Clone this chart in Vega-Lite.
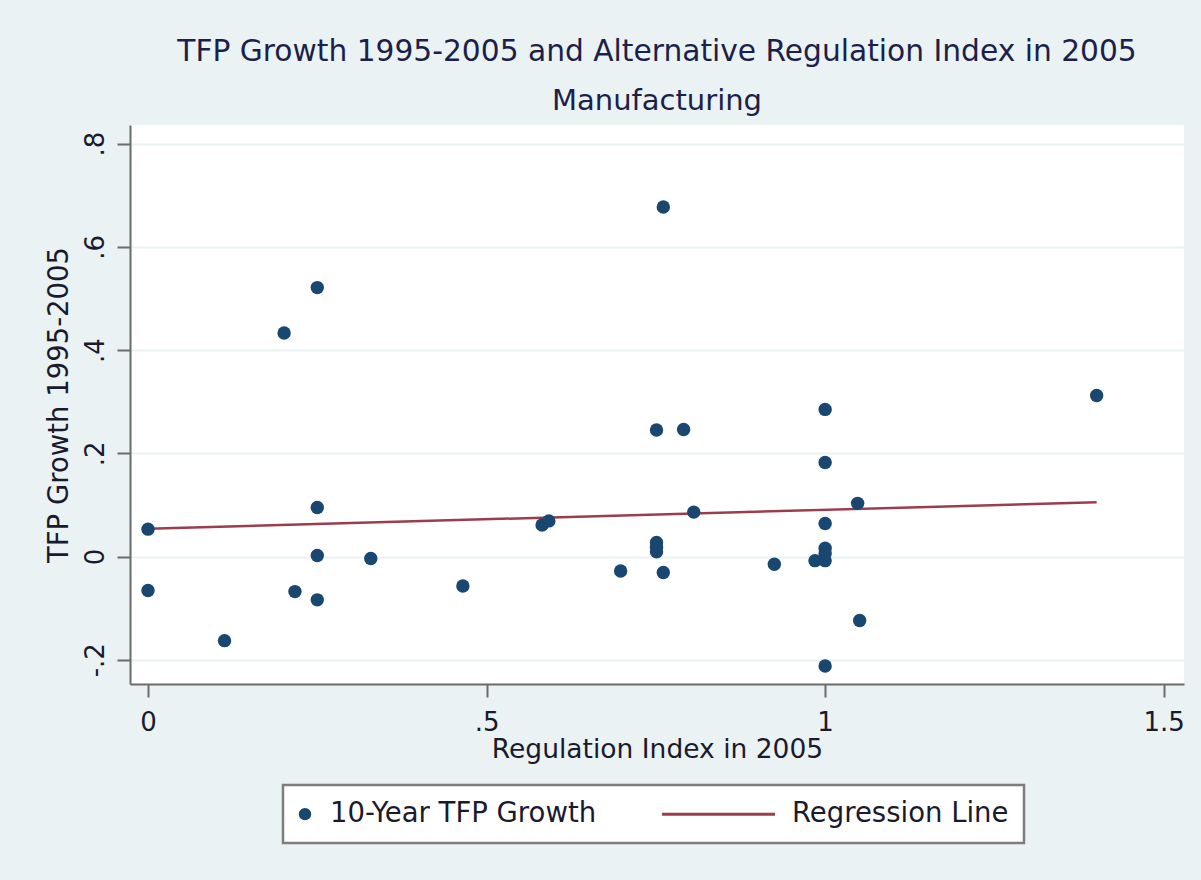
{
  "$schema": "https://vega.github.io/schema/vega-lite/v6.json",
  "width": 1054,
  "height": 559,
  "autosize": {"type": "none"},
  "padding": {"left": 130, "top": 125, "right": 17, "bottom": 196},
  "background": "#eaf2f3",
  "title": {
    "text": "TFP Growth 1995-2005 and Alternative Regulation Index in 2005",
    "subtitle": "Manufacturing",
    "anchor": "middle",
    "font": "DejaVu Sans",
    "subtitleFont": "DejaVu Sans",
    "fontSize": 29.7,
    "subtitleFontSize": 29,
    "fontWeight": "normal",
    "color": "#1c1f4a",
    "subtitleColor": "#1c1f4a",
    "offset": 8,
    "subtitlePadding": 19
  },
  "datasets": {
    "points": [
      {"x": 0, "y": 0.053, "series": "10-Year TFP Growth"},
      {"x": 0, "y": -0.066, "series": "10-Year TFP Growth"},
      {"x": 0.113, "y": -0.163, "series": "10-Year TFP Growth"},
      {"x": 0.201, "y": 0.433, "series": "10-Year TFP Growth"},
      {"x": 0.217, "y": -0.068, "series": "10-Year TFP Growth"},
      {"x": 0.25, "y": 0.521, "series": "10-Year TFP Growth"},
      {"x": 0.25, "y": 0.095, "series": "10-Year TFP Growth"},
      {"x": 0.25, "y": 0.002, "series": "10-Year TFP Growth"},
      {"x": 0.25, "y": -0.084, "series": "10-Year TFP Growth"},
      {"x": 0.329, "y": -0.004, "series": "10-Year TFP Growth"},
      {"x": 0.465, "y": -0.057, "series": "10-Year TFP Growth"},
      {"x": 0.582, "y": 0.061, "series": "10-Year TFP Growth"},
      {"x": 0.592, "y": 0.069, "series": "10-Year TFP Growth"},
      {"x": 0.698, "y": -0.028, "series": "10-Year TFP Growth"},
      {"x": 0.751, "y": 0.245, "series": "10-Year TFP Growth"},
      {"x": 0.751, "y": 0.027, "series": "10-Year TFP Growth"},
      {"x": 0.751, "y": 0.018, "series": "10-Year TFP Growth"},
      {"x": 0.751, "y": 0.009, "series": "10-Year TFP Growth"},
      {"x": 0.761, "y": -0.031, "series": "10-Year TFP Growth"},
      {"x": 0.761, "y": 0.677, "series": "10-Year TFP Growth"},
      {"x": 0.791, "y": 0.246, "series": "10-Year TFP Growth"},
      {"x": 0.806, "y": 0.086, "series": "10-Year TFP Growth"},
      {"x": 0.925, "y": -0.015, "series": "10-Year TFP Growth"},
      {"x": 0.985, "y": -0.008, "series": "10-Year TFP Growth"},
      {"x": 1.0, "y": 0.285, "series": "10-Year TFP Growth"},
      {"x": 1.0, "y": 0.182, "series": "10-Year TFP Growth"},
      {"x": 1.0, "y": 0.064, "series": "10-Year TFP Growth"},
      {"x": 1.0, "y": 0.016, "series": "10-Year TFP Growth"},
      {"x": 1.0, "y": 0.006, "series": "10-Year TFP Growth"},
      {"x": 1.0, "y": -0.008, "series": "10-Year TFP Growth"},
      {"x": 1.0, "y": -0.212, "series": "10-Year TFP Growth"},
      {"x": 1.048, "y": 0.103, "series": "10-Year TFP Growth"},
      {"x": 1.051, "y": -0.124, "series": "10-Year TFP Growth"},
      {"x": 1.401, "y": 0.312, "series": "10-Year TFP Growth"}
    ],
    "fit": [
      {"x": 0, "y": 0.054, "series": "Regression Line"},
      {"x": 1.401, "y": 0.105, "series": "Regression Line"}
    ]
  },
  "config": {
    "font": "DejaVu Sans",
    "view": {"fill": "white", "stroke": null}
  },
  "encoding": {
    "x": {
      "field": "x",
      "type": "quantitative",
      "scale": {"domain": [-0.0266, 1.53], "nice": false, "zero": false},
      "axis": {
        "values": [0, 0.5, 1, 1.5],
        "title": "Regulation Index in 2005",
        "grid": false,
        "domainColor": "#6b6b6b",
        "domainWidth": 2,
        "tickColor": "#6b6b6b",
        "tickWidth": 2,
        "tickSize": 13,
        "labelFontSize": 26,
        "labelPadding": 12,
        "labelColor": "#1a1a2e",
        "labelFlush": false,
        "labelOverlap": false,
        "labelExpr": "(datum.value < 0 ? '-' : '') + replace(format(abs(datum.value), '~g'), '0.', '.')",
        "titleFontSize": 26.5,
        "titleFontWeight": "normal",
        "titleColor": "#1a1a2e",
        "titlePadding": 1
      }
    },
    "y": {
      "field": "y",
      "type": "quantitative",
      "scale": {"domain": [-0.247, 0.836], "nice": false, "zero": false},
      "axis": {
        "values": [-0.2, 0, 0.2, 0.4, 0.6, 0.8],
        "title": "TFP Growth 1995-2005",
        "grid": true,
        "gridColor": "#eaf2f3",
        "gridWidth": 2,
        "domainColor": "#6b6b6b",
        "domainWidth": 2,
        "tickColor": "#6b6b6b",
        "tickWidth": 2,
        "tickSize": 13,
        "labelFontSize": 26,
        "labelAngle": -90,
        "labelAlign": "center",
        "labelBaseline": "alphabetic",
        "labelPadding": 14,
        "labelColor": "#1a1a2e",
        "labelOverlap": false,
        "labelExpr": "(datum.value < 0 ? '-' : '') + replace(format(abs(datum.value), '~g'), '0.', '.')",
        "titleFontSize": 27.5,
        "titleFontWeight": "normal",
        "titleColor": "#1a1a2e",
        "titlePadding": 9
      }
    },
    "color": {
      "field": "series",
      "type": "nominal",
      "scale": {"domain": ["10-Year TFP Growth", "Regression Line"], "range": ["#1a476f", "#9c3d4e"]},
      "legend": {
        "orient": "none",
        "legendX": 153,
        "legendY": 660,
        "direction": "horizontal",
        "title": null,
        "fillColor": "white",
        "strokeColor": "#7d7d7d",
        "padding": 15,
        "labelFontSize": 27.5,
        "labelColor": "#1a1a2e",
        "labelLimit": 500,
        "labelOffset": 12,
        "columnPadding": 59,
        "symbolSize": 154,
        "encode": {
          "legend": {"update": {"strokeWidth": {"value": 2.5}}},
          "symbols": {
            "update": {
              "x": {"signal": "datum.value === 'Regression Line' ? 56.5 : 7"},
              "shape": {"signal": "datum.value === 'Regression Line' ? 'stroke' : 'circle'"},
              "size": {"signal": "datum.value === 'Regression Line' ? 12769 : 154"},
              "fill": {"signal": "datum.value === 'Regression Line' ? 'transparent' : '#1a476f'"},
              "stroke": {"signal": "datum.value === 'Regression Line' ? '#9c3d4e' : 'transparent'"},
              "strokeWidth": {"signal": "datum.value === 'Regression Line' ? 3 : 0"},
              "opacity": {"value": 1}
            }
          },
          "labels": {
            "update": {
              "x": {"signal": "datum.value === 'Regression Line' ? 130 : 32"}
            }
          }
        }
      }
    }
  },
  "layer": [
    {
      "data": {"name": "fit"},
      "mark": {"type": "line", "strokeWidth": 2.5}
    },
    {
      "data": {"name": "points"},
      "mark": {"type": "point", "filled": true, "shape": "circle", "size": 180, "opacity": 1}
    }
  ]
}
